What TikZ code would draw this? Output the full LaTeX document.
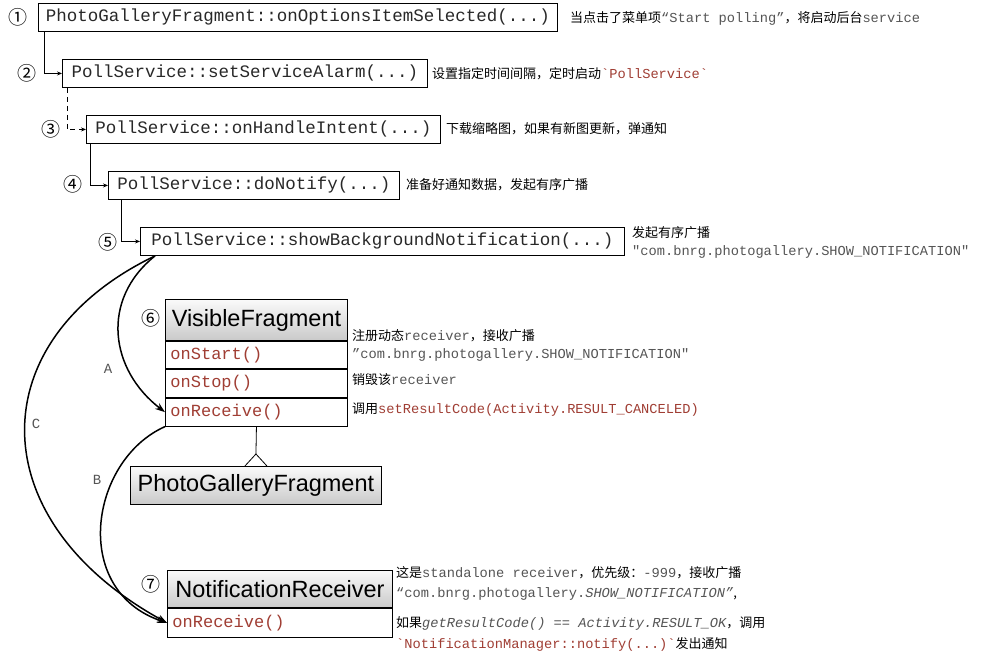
\documentclass[tikz,border=0pt]{standalone}
\usepackage{fontspec}
\usetikzlibrary{arrows.meta}
\setmonofont{Liberation Mono}
\newfontfamily\cjk{Noto Sans CJK SC}
\newfontfamily\helv{Liberation Sans}
\newfontfamily\symf{DejaVu Sans}
\definecolor{codered}{RGB}{160,62,52}
\definecolor{anngray}{RGB}{85,85,85}
\definecolor{boxtxt}{RGB}{40,40,40}
\newcommand\monotxt[1]{{\ttfamily\fontsize{13.7}{15}\selectfont\color{anngray}#1}}
\newcommand\redtxt[1]{{\ttfamily\fontsize{13.7}{15}\selectfont\color{codered}#1}}
\begin{document}
\begin{tikzpicture}[x=1pt,y=-1pt,
  callbox/.style={draw, line width=0.9pt, anchor=north west, minimum height=28pt,
    inner xsep=4pt, inner ysep=0pt, font=\ttfamily\fontsize{17.5}{20}\selectfont, text=boxtxt},
  num/.style={font=\cjk\fontsize{19}{19}\selectfont, inner sep=0pt},
  ann/.style={anchor=west, inner sep=0pt, font=\cjk\fontsize{13}{15}\selectfont},
  conn/.style={line width=0.8pt, -{Stealth[length=5pt,width=4pt]}},
  curve/.style={line width=1.5pt, -{Stealth[length=10pt,width=7pt]}},
  hdr/.style={draw, line width=0.9pt, anchor=north west, top color=gray!4, bottom color=gray!42,
    font=\helv\fontsize{23.5}{26}\selectfont, inner sep=0pt},
  row/.style={draw, line width=0.9pt, anchor=north west, text width=172pt, inner xsep=5pt,
    inner ysep=0pt, align=left, font=\ttfamily\fontsize{17}{19}\selectfont, text=codered},
  lbl/.style={font=\ttfamily\fontsize{14}{14}\selectfont, text=anngray, inner sep=0pt}
]
\useasboundingbox[fill=white] (0,0) rectangle (983,658);

% call chain boxes
\node[callbox, minimum width=519pt] (b1) at (38,3) {PhotoGalleryFragment::onOptionsItemSelected(...)};
\node[callbox, minimum width=365pt] (b2) at (62,59) {PollService::setServiceAlarm(...)};
\node[callbox, minimum width=354pt] (b3) at (86,115) {PollService::onHandleIntent(...)};
\node[callbox, minimum width=291pt] (b4) at (108,171) {PollService::doNotify(...)};
\node[callbox, minimum width=484pt] (b5) at (140,227) {PollService::showBackgroundNotification(...)};

% step numbers
\node[num] (n1) at (18,17) {①};
\node[num] (n2) at (27,73) {②};
\node[num] (n3) at (51,129) {③};
\node[num] (n4) at (73,184) {④};
\node[num] (n5) at (108,242) {⑤};
\node[num] (n6) at (151,318) {⑥};
\node[num] (n7) at (151,584) {⑦};

% connectors between calls
\draw[conn] ([xshift=6pt]b1.south west) |- (b2.west);
\draw[conn, dash pattern=on 5pt off 4pt] ([xshift=5pt]b2.south west) |- (b3.west);
\draw[conn] ([xshift=4pt]b3.south west) |- (b4.west);
\draw[conn] ([xshift=13pt]b4.south west) |- (b5.west);

% annotations of calls
\node[ann] (a1) at (570,18) {当点击了菜单项\monotxt{“Start polling”}，将启动后台\monotxt{service}};
\node[ann] (a2) at (432,74) {设置指定时间间隔，定时启动\redtxt{`PollService`}};
\node[ann] (a3) at (446,129) {下载缩略图，如果有新图更新，弹通知};
\node[ann] (a4) at (406,185) {准备好通知数据，发起有序广播};
\node[ann] (a5a) at (632,233) {发起有序广播};
\node[ann] (a5b) at (632,252) {\monotxt{"com.bnrg.photogallery.SHOW\_NOTIFICATION"}};

% VisibleFragment class
\node[hdr, minimum width=182pt, minimum height=41pt] (vhead) at (165,299) {VisibleFragment};
\node[row, minimum height=27pt] (vstart) at (vhead.south west) {onStart()};
\node[row, minimum height=28pt] (vstop) at (vstart.south west) {onStop()};
\node[row, minimum height=28pt] (vrecv) at (vstop.south west) {onReceive()};
\draw[line width=1.6pt] (vhead.south west) -- (vhead.south east);
\draw[line width=1.6pt] (vstart.south west) -- (vstart.south east);

\node[ann] (v1) at (352,336) {注册动态\monotxt{receiver}，接收广播};
\node[ann] (v2) at (352,355) {\monotxt{”com.bnrg.photogallery.SHOW\_NOTIFICATION"}};
\node[ann] (v3) at (352,380) {销毁该\monotxt{receiver}};
\node[ann] (v4) at (352,410) {调用\redtxt{setResultCode(Activity.RESULT\_CANCELED)}};

% PhotoGalleryFragment class
\node[hdr, minimum width=251pt, minimum height=38pt] (pg) at (130,466) {PhotoGalleryFragment};
\draw[line width=0.8pt] (vrecv.south) -- ([yshift=12pt]pg.north);
\draw[line width=0.8pt] ([xshift=-11pt]pg.north) -- ([yshift=12pt]pg.north) -- ([xshift=11pt]pg.north);

% NotificationReceiver class
\node[hdr, minimum width=225pt, minimum height=37pt] (nhead) at (167,570) {NotificationReceiver};
\node[row, text width=215pt, minimum height=29pt] (nrecv) at (nhead.south west) {onReceive()};

\node[ann] (r1) at (396,573) {这是\monotxt{standalone receiver}，优先级：\monotxt{-999}，接收广播};
\node[ann] (r2) at (396,594) {\monotxt{“com.bnrg.photogallery.{\itshape SHOW\_NOTIFICATION”}},};
\node[ann] (r3) at (396,623) {如果\monotxt{\itshape getResultCode() == Activity.RESULT\_OK}，调用};
\node[ann] (r4) at (396,644) {\redtxt{`NotificationManager::notify(...)`}发出通知};

% broadcast curves
\draw[curve] ([xshift=15pt]b5.south west) .. controls (100,300) and (110,370) .. (vrecv.west);
\draw[curve] ([xshift=15pt]b5.south west) .. controls (-20,340) and (-20,520) .. (nrecv.west);
\draw[curve] (vrecv.south west) .. controls (90,460) and (70,590) .. (nrecv.west);
\node[lbl] (la) at (108,369) {A};
\node[lbl] (lb) at (97,480) {B};
\node[lbl] (lc) at (36,424) {C};
\end{tikzpicture}
\end{document}
